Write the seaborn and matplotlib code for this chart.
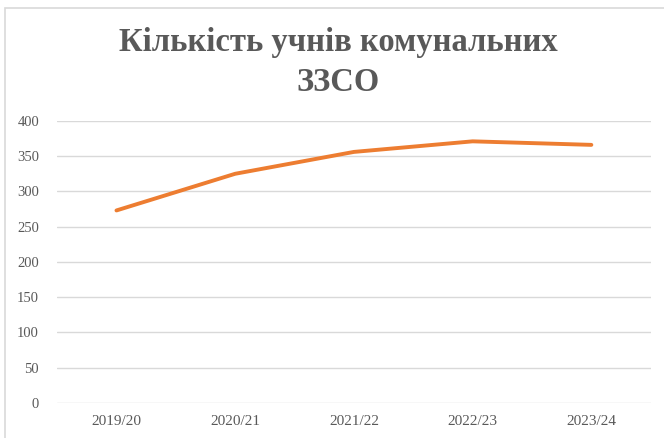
import matplotlib.pyplot as plt
import seaborn as sns
import pandas as pd
from matplotlib.patches import Rectangle

# data
years = ['2019/20', '2020/21', '2021/22', '2022/23', '2023/24']
students = [273, 325, 356, 371, 366]
y_ticks = [0, 50, 100, 150, 200, 250, 300, 350, 400]

df = pd.DataFrame({'Year': years, 'Students': students})

sns.set_theme(style="white")
plt.rcParams['font.family'] = ['Liberation Serif', 'DejaVu Serif']

fig = plt.figure(figsize=(6.64, 4.38), dpi=100)
ax = fig.add_axes([0.086, 0.080, 0.894, 0.644])

sns.lineplot(x='Year', y='Students', data=df, color='#ED7D31', linewidth=2.8,
             sort=False, ax=ax, solid_capstyle='round')

ax.set_ylim(0, 400)
ax.set_xlim(-0.5, len(years) - 0.5)
ax.set_yticks(y_ticks)
ax.yaxis.grid(True, color='#D9D9D9', linewidth=1)
ax.xaxis.grid(False)
for s in ax.spines.values():
    s.set_visible(False)
ax.tick_params(axis='both', length=0, labelsize=10.5, labelcolor='#595959')
ax.tick_params(axis='y', pad=13)
ax.tick_params(axis='x', labelsize=11, pad=9)
ax.set_xlabel('')
ax.set_ylabel('')

fig.text(0.509, 0.857, 'Кількість учнів комунальних\nЗЗСО', ha='center', va='center',
         fontsize=23.5, fontweight='bold', color='#595959', linespacing=1.35)

# chart border (cropped on right and bottom in the reference)
fig.patches.append(Rectangle((0.0075, -0.02), 1.05, 1.0017, transform=fig.transFigure,
                             fill=False, edgecolor='#D9D9D9', linewidth=1.2))

fig.savefig('out.png', dpi=100)
